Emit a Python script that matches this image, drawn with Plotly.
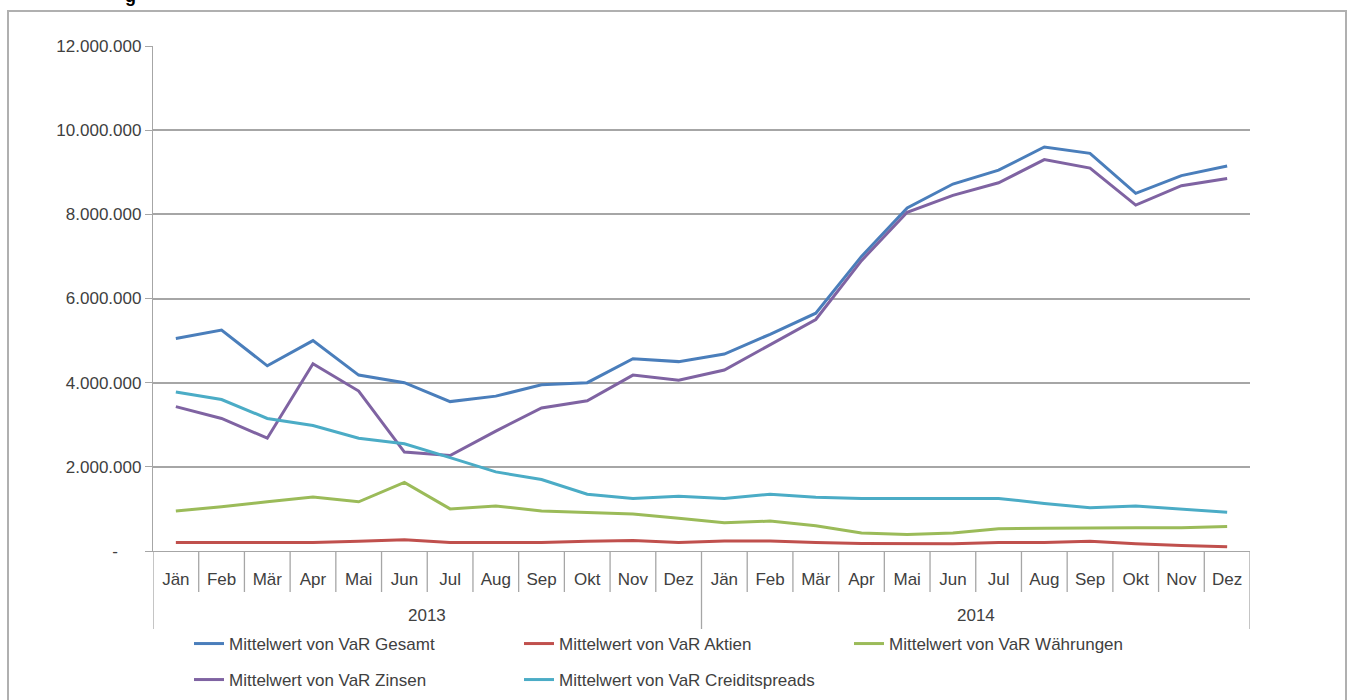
import plotly.graph_objects as go

months = ["Jän", "Feb", "Mär", "Apr", "Mai", "Jun", "Jul", "Aug", "Sep", "Okt", "Nov", "Dez"]
years = ["2013", "2014"]

gesamt = [5.05, 5.25, 4.40, 5.00, 4.18, 4.00, 3.55, 3.68, 3.95, 4.00, 4.57, 4.50,
          4.68, 5.15, 5.65, 7.00, 8.15, 8.72, 9.05, 9.60, 9.45, 8.50, 8.92, 9.15]
aktien = [0.20, 0.20, 0.20, 0.20, 0.23, 0.27, 0.20, 0.20, 0.20, 0.23, 0.25, 0.20,
          0.24, 0.24, 0.20, 0.18, 0.17, 0.17, 0.20, 0.20, 0.23, 0.17, 0.13, 0.10]
waehrungen = [0.95, 1.05, 1.17, 1.28, 1.17, 1.63, 1.00, 1.07, 0.95, 0.92, 0.88, 0.78,
              0.67, 0.71, 0.60, 0.43, 0.39, 0.43, 0.53, 0.54, 0.55, 0.55, 0.55, 0.58]
zinsen = [3.43, 3.15, 2.68, 4.45, 3.80, 2.35, 2.27, 2.85, 3.40, 3.57, 4.18, 4.06,
          4.30, 4.90, 5.50, 6.90, 8.05, 8.45, 8.75, 9.30, 9.10, 8.22, 8.68, 8.85]
spreads = [3.78, 3.60, 3.15, 2.98, 2.68, 2.55, 2.22, 1.88, 1.70, 1.35, 1.25, 1.30,
           1.25, 1.35, 1.28, 1.25, 1.25, 1.25, 1.25, 1.13, 1.03, 1.07, 0.99, 0.92]

y_tickvals = [0, 2e6, 4e6, 6e6, 8e6, 10e6, 12e6]
y_ticktext = ["-\u00a0\u00a0\u00a0\u00a0\u00a0", "2.000.000", "4.000.000", "6.000.000",
              "8.000.000", "10.000.000", "12.000.000"]

series = [
    ("Mittelwert von VaR Gesamt", gesamt, "#4A7EBB", "legend"),
    ("Mittelwert von VaR Aktien", aktien, "#C0504D", "legend"),
    ("Mittelwert von VaR Währungen", waehrungen, "#9BBB59", "legend"),
    ("Mittelwert von VaR Zinsen", zinsen, "#7F63A2", "legend2"),
    ("Mittelwert von VaR Creiditspreads", spreads, "#4BACC6", "legend2"),
]

labels = [m for _ in years for m in months]
xs = list(range(len(labels)))

FONT = "Liberation Sans, Arial, sans-serif"
TXT = "#404040"
GRID = "#A6A6A6"

fig = go.Figure()
for name, vals, col, lg in series:
    fig.add_trace(go.Scatter(
        x=xs, y=[v * 1e6 for v in vals], name=name, mode="lines",
        line=dict(color=col, width=3), legend=lg))

L, R, T, B = 153, 101, 46, 149
W, H = 1351, 700
pw, ph = W - L - R, H - T - B

def px_x(p):
    return (p - L) / pw

def px_y(p):
    return (H - B - p) / ph

shapes = []
n = len(labels)
for i in range(1, n):
    if i % len(months) == 0:
        continue
    shapes.append(dict(type="line", xref="x", yref="paper", x0=i - 0.5, x1=i - 0.5,
                       y0=0, y1=px_y(592), line=dict(color=GRID, width=1.3)))
for j in range(len(years) + 1):
    xv = j * len(months) - 0.5
    shapes.append(dict(type="line", xref="x", yref="paper", x0=xv, x1=xv,
                       y0=0, y1=px_y(629), line=dict(color=GRID, width=1.3)))
# outer chart frame
shapes.append(dict(type="rect", xref="paper", yref="paper", x0=px_x(8), x1=px_x(1346),
                   y0=px_y(730), y1=px_y(11), line=dict(color="#B0B0B0", width=2),
                   layer="below"))

annotations = []
for j, yr in enumerate(years):
    annotations.append(dict(x=j * len(months) + (len(months) - 1) / 2, xref="x",
                            y=px_y(615), yref="paper", text=yr, showarrow=False,
                            font=dict(size=17, color=TXT, family=FONT), yanchor="middle"))
annotations.append(dict(x=px_x(130), xref="paper", y=px_y(8), yref="paper", text="<b>g</b>",
                        showarrow=False, yanchor="bottom", xanchor="center",
                        font=dict(size=18, color="#000000", family=FONT)))

fig.update_layout(
    width=W, height=H,
    margin=dict(l=L, r=R, t=T, b=B, pad=0, autoexpand=False),
    paper_bgcolor="white", plot_bgcolor="white",
    font=dict(family=FONT, size=17, color=TXT),
    xaxis=dict(range=[-0.5, n - 0.5], tickvals=xs, ticktext=labels, showgrid=False,
               zeroline=False, showline=True, linecolor=GRID, linewidth=1.3,
               ticks="", tickfont=dict(size=17, color=TXT), ticklabelstandoff=12,
               automargin=False),
    yaxis=dict(range=[0, 12e6], tickvals=y_tickvals, ticktext=y_ticktext,
               showgrid=True, gridcolor=GRID, gridwidth=1.5, zeroline=False,
               showline=True, linecolor=GRID, linewidth=1.3, ticks="outside",
               ticklen=7, tickcolor=GRID, tickwidth=1.3,
               tickfont=dict(size=17, color=TXT), automargin=False),
    legend=dict(orientation="h", x=px_x(189), xanchor="left", y=px_y(644), yanchor="middle",
                entrywidth=285, entrywidthmode="pixels", bgcolor="rgba(0,0,0,0)",
                font=dict(size=17, color=TXT, family=FONT)),
    legend2=dict(orientation="h", x=px_x(189), xanchor="left", y=px_y(680), yanchor="middle",
                 entrywidth=285, entrywidthmode="pixels", bgcolor="rgba(0,0,0,0)",
                 font=dict(size=17, color=TXT, family=FONT)),
    shapes=shapes, annotations=annotations,
    showlegend=True,
)

fig.write_html("out.html", config={"displayModeBar": False},
               post_script="document.body.style.margin='0';")
